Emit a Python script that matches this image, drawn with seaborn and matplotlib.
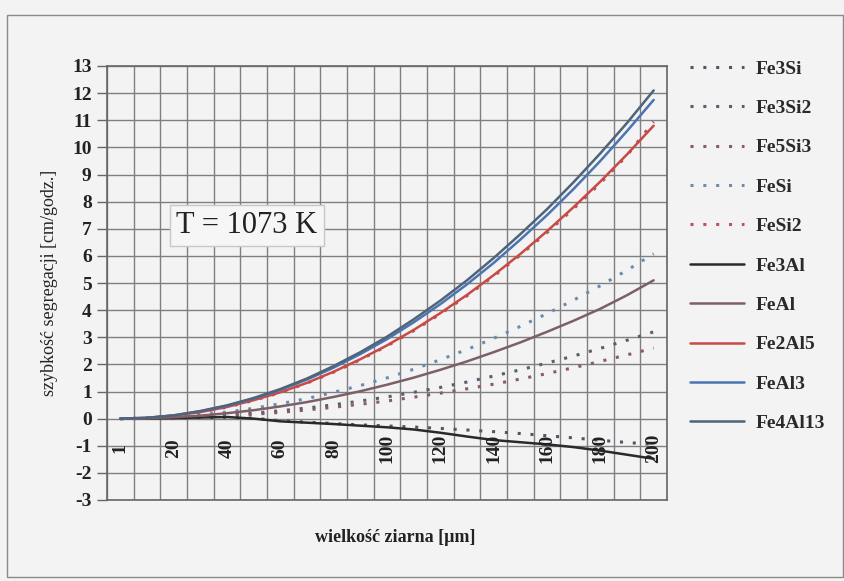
import numpy as np
import pandas as pd
import seaborn as sns
import matplotlib.pyplot as plt
from matplotlib.patches import Rectangle

# grain size categories (Excel category axis)
sizes = [1, 10, 20, 30, 40, 50, 60, 70, 80, 90, 100,
         110, 120, 130, 140, 150, 160, 170, 180, 190, 200]

fe3si = [0, 0.005, 0.02, 0.04, 0.05, 0.02, -0.08, -0.13, -0.18, -0.23, -0.27,
         -0.31, -0.36, -0.42, -0.48, -0.55, -0.63, -0.71, -0.8, -0.88, -0.95]
fe3si2 = [0, 0.008, 0.03, 0.07, 0.13, 0.2, 0.29, 0.39, 0.51, 0.65, 0.8,
          0.97, 1.15, 1.35, 1.57, 1.8, 2.05, 2.31, 2.59, 2.89, 3.2]
fe5si3 = [0, 0.006, 0.025, 0.06, 0.1, 0.16, 0.23, 0.32, 0.42, 0.53, 0.65,
          0.79, 0.94, 1.1, 1.27, 1.46, 1.66, 1.88, 2.11, 2.35, 2.6]
fesi = [0, 0.015, 0.06, 0.14, 0.24, 0.38, 0.55, 0.74, 0.97, 1.22, 1.5,
        1.82, 2.17, 2.55, 2.96, 3.4, 3.87, 4.37, 4.9, 5.47, 6.08]
fesi2 = [0, 0.02, 0.1, 0.24, 0.42, 0.67, 0.96, 1.31, 1.71, 2.17, 2.68,
         3.24, 3.86, 4.53, 5.25, 6.03, 6.86, 7.74, 8.68, 9.7, 10.95]
fe3al = [0, 0.005, 0.02, 0.04, 0.06, 0.0, -0.1, -0.15, -0.2, -0.26, -0.32,
         -0.4, -0.52, -0.66, -0.79, -0.87, -0.95, -1.05, -1.18, -1.33, -1.48]
feal = [0, 0.013, 0.05, 0.11, 0.2, 0.31, 0.45, 0.61, 0.8, 1.01, 1.25,
        1.51, 1.8, 2.11, 2.45, 2.81, 3.2, 3.61, 4.05, 4.55, 5.1]
fe2al5 = [0, 0.02, 0.11, 0.24, 0.43, 0.68, 0.97, 1.32, 1.73, 2.19, 2.7,
          3.27, 3.89, 4.56, 5.29, 6.07, 6.91, 7.8, 8.74, 9.74, 10.8]
feal3 = [0, 0.03, 0.12, 0.27, 0.47, 0.74, 1.06, 1.44, 1.88, 2.38, 2.93,
         3.55, 4.22, 4.95, 5.74, 6.6, 7.5, 8.47, 9.5, 10.6, 11.75]
fe4al13 = [0, 0.03, 0.12, 0.28, 0.49, 0.76, 1.09, 1.48, 1.94, 2.45, 3.02,
           3.66, 4.35, 5.1, 5.92, 6.8, 7.72, 8.72, 9.78, 10.9, 12.1]

names = ['Fe3Si', 'Fe3Si2', 'Fe5Si3', 'FeSi', 'FeSi2',
         'Fe3Al', 'FeAl', 'Fe2Al5', 'FeAl3', 'Fe4Al13']
values = [fe3si, fe3si2, fe5si3, fesi, fesi2,
          fe3al, feal, fe2al5, feal3, fe4al13]
colors = ['#4d5866', '#55606e', '#8a5a6c', '#6b8cae', '#c0505e',
          '#2a2a2a', '#7d5f68', '#c84a44', '#4a74b4', '#4f6478']
dotted = [True] * 5 + [False] * 5

sns.set_style('white')
plt.rcParams['font.family'] = ['Liberation Serif', 'DejaVu Serif']

fig = plt.figure(figsize=(8.45, 5.81), dpi=100, facecolor='#f3f3f3')
ax = fig.add_axes([107 / 845, 81 / 581, 560 / 845, 434 / 581])
ax.set_facecolor('#f3f3f3')

idx = np.arange(len(sizes))
for name, vals, col, dot in zip(names, values, colors, dotted):
    df = pd.DataFrame({'i': idx, 'v': vals})
    if dot:
        sns.lineplot(data=df, x='i', y='v', ax=ax, color=col, lw=2.2,
                     linestyle=(0, (1, 3.2)), label=name)
    else:
        sns.lineplot(data=df, x='i', y='v', ax=ax, color=col, lw=1.8, label=name)

ax.set_xlim(-0.5, len(sizes) - 0.5)
ax.set_ylim(-3, 13)
ax.set_yticks(range(-3, 14))
ax.set_yticklabels([str(t) for t in range(-3, 14)], fontsize=14, fontweight='bold', color='#222')
ax.set_xticks(np.arange(-0.5, len(sizes), 1))
ax.set_xticklabels([])
ax.tick_params(axis='x', length=0)
ax.tick_params(axis='y', length=7, width=1, color='#666', direction='out', pad=4, left=True)
ax.grid(True, color='#7f7f7f', lw=1)
for s in ax.spines.values():
    s.set_color('#666')
    s.set_linewidth(1.2)

for i, s in enumerate(sizes):
    if i % 2 == 0:
        ax.text(i, -1.08, str(s), rotation=90, ha='center', va='center',
                fontsize=14, fontweight='bold', color='#222')

ax.set_xlabel('')
ax.set_ylabel('')
fig.text(395 / 845, 1 - 537 / 581, 'wielkość ziarna [µm]', ha='center', va='center',
         fontsize=13, fontweight='bold', color='#222')
fig.text(50 / 845, 1 - 283 / 581, 'szybkość segregacji [cm/godz.]', rotation=90,
         ha='center', va='center', fontsize=13, color='#222')

ax.text(4.75, 7.12, 'T = 1073 K', fontsize=22, ha='center', va='center', color='#222',
        bbox=dict(boxstyle='square,pad=0.2', fc='#f6f6f6', ec='#c8c8c8', lw=1))

leg = ax.legend(loc='upper left', bbox_to_anchor=(690 / 845, 1 - 60 / 581),
                bbox_transform=fig.transFigure, frameon=False, fontsize=14,
                handlelength=2.8, handletextpad=0.6, labelspacing=1.12,
                borderpad=0, borderaxespad=0)
for t in leg.get_texts():
    t.set_fontweight('bold')
    t.set_color('#2a2a2a')

fig.patches.append(Rectangle((7 / 845, 4 / 581), 836 / 845, 562 / 581,
                             transform=fig.transFigure, fill=False, ec='#8a8a8a', lw=1))

fig.savefig('out.png', dpi=100, facecolor=fig.get_facecolor())
